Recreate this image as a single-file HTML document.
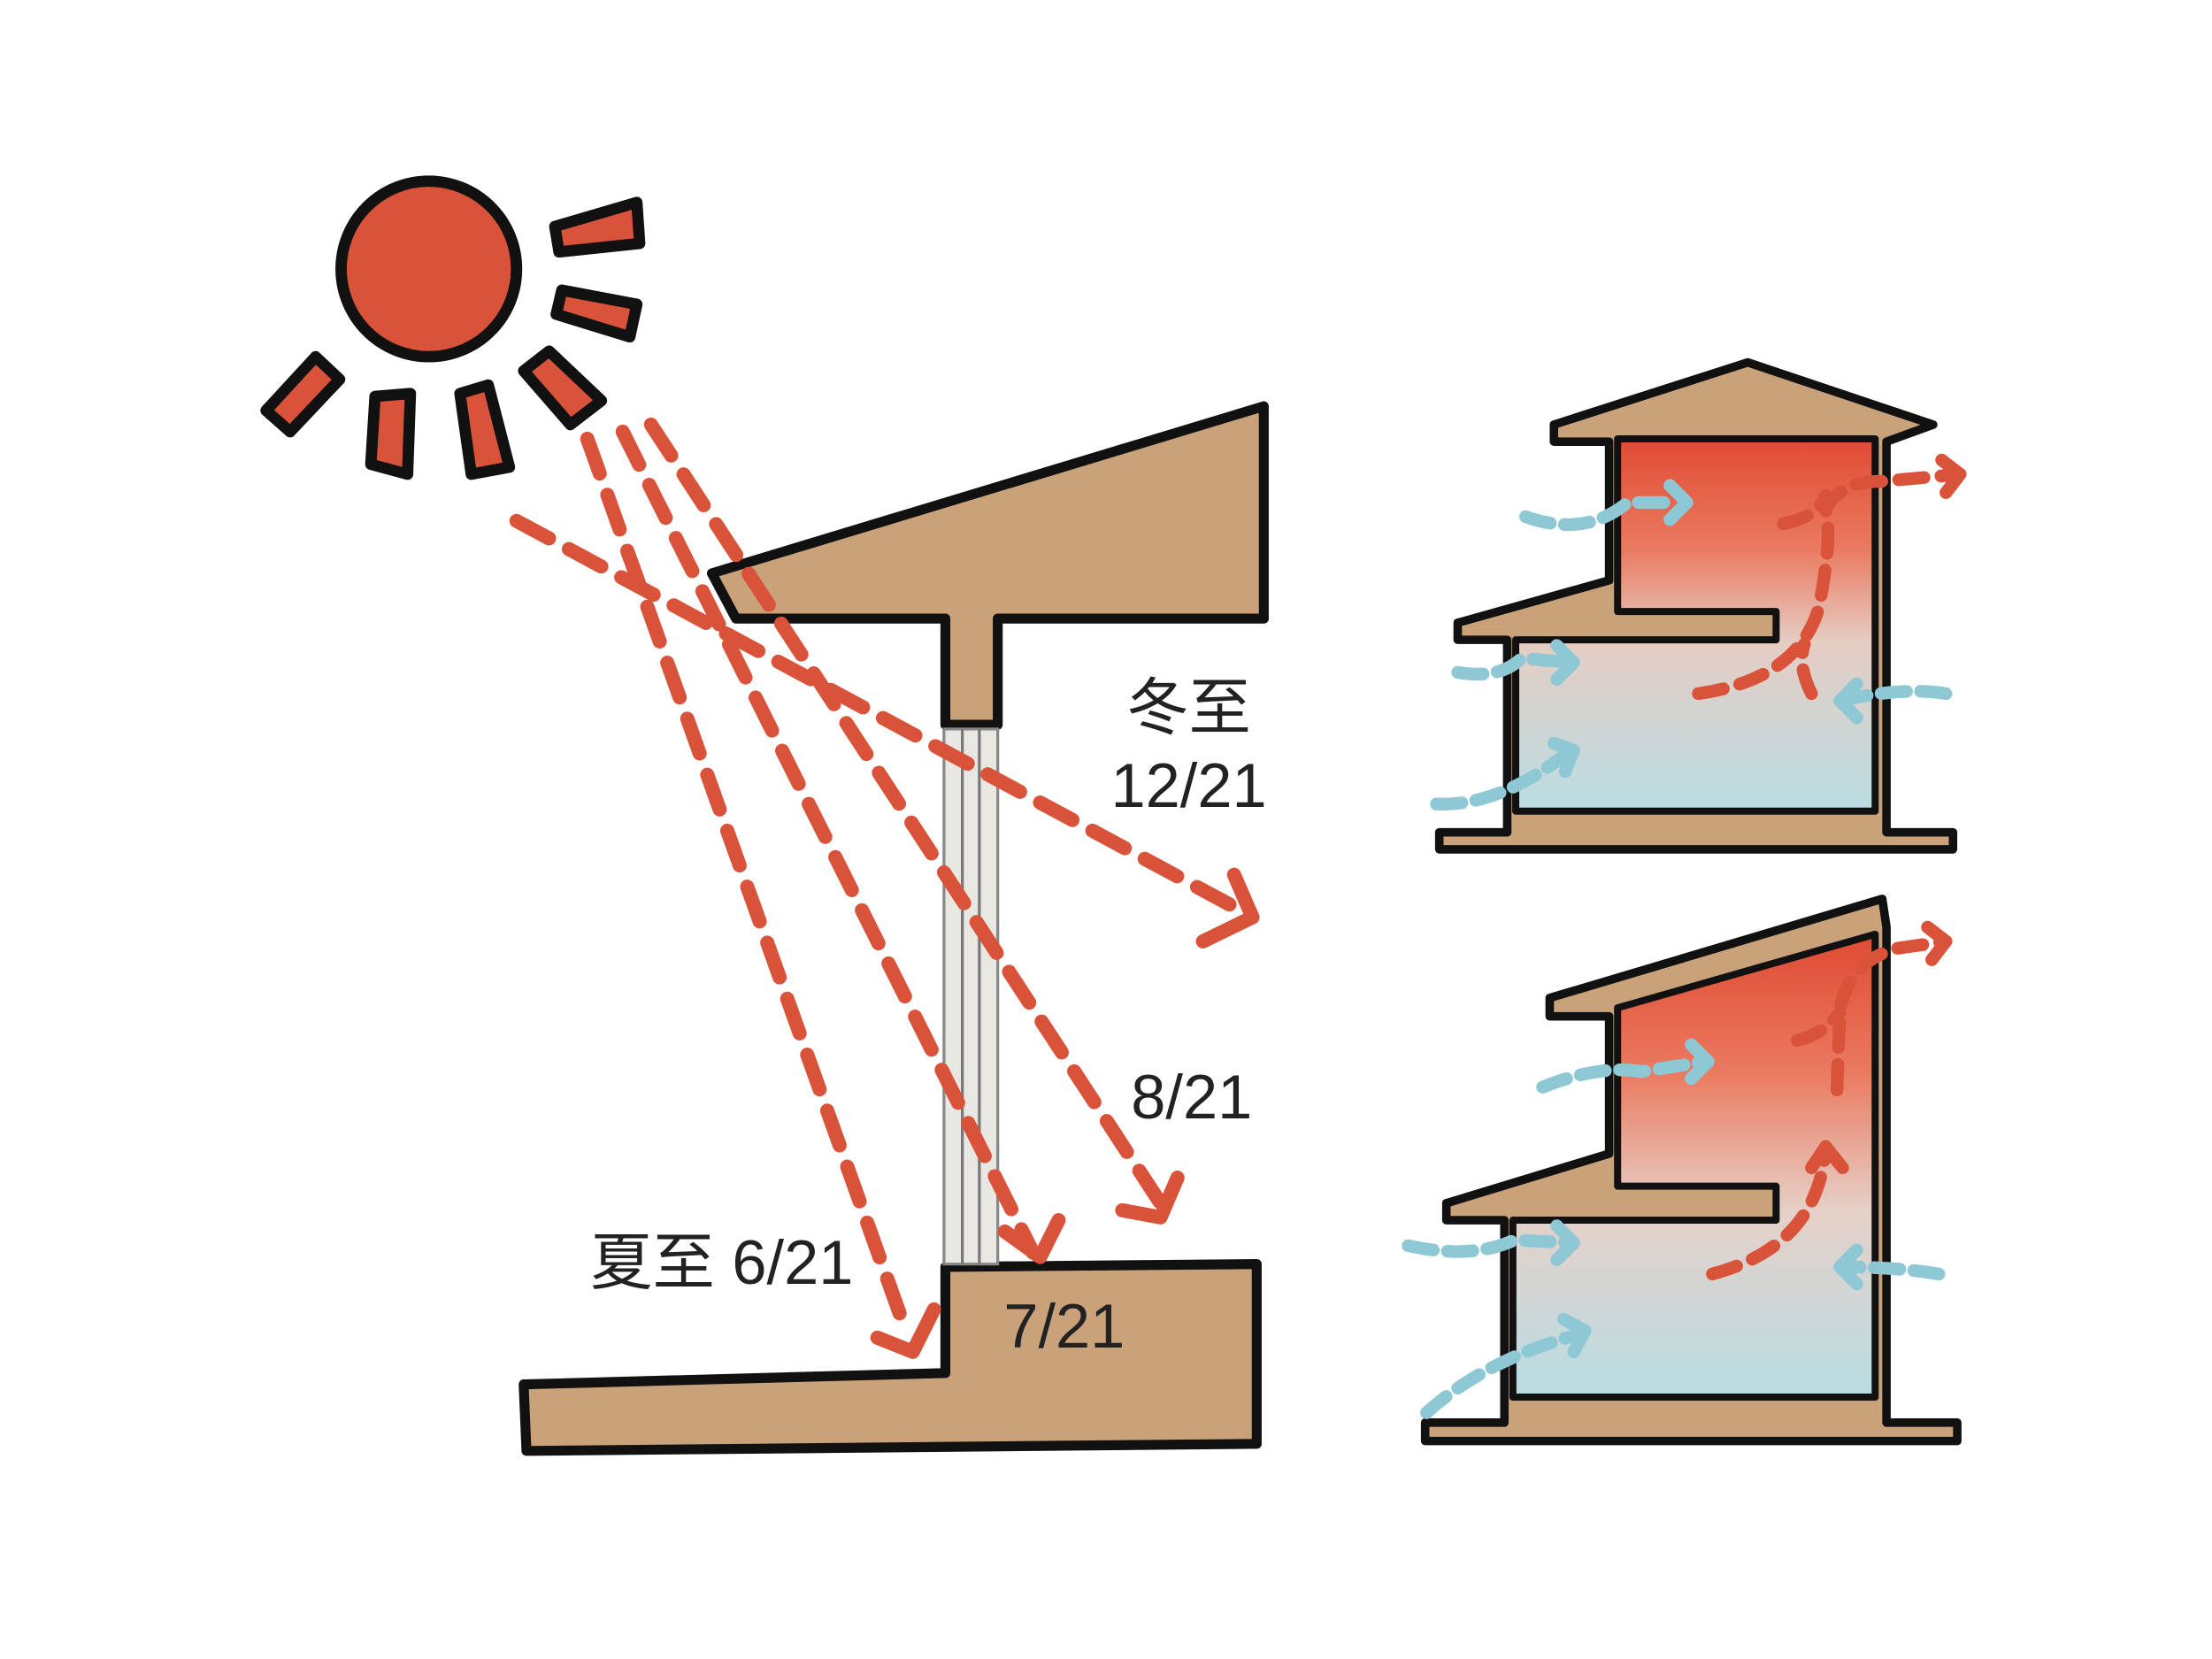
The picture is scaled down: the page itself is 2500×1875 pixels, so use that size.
<!DOCTYPE html>
<html><head><meta charset="utf-8"><style>
html,body{margin:0;padding:0;background:#fff;}
svg{display:block;}
text{font-family:"Liberation Sans","Noto Sans CJK SC",sans-serif;fill:#222;}
</style></head><body>
<svg width="2500" height="1875" viewBox="0 0 1563 1172" preserveAspectRatio="none" xmlns="http://www.w3.org/2000/svg">
<defs>
<linearGradient id="g1" gradientUnits="userSpaceOnUse" x1="0" y1="308" x2="0" y2="573">
<stop offset="0" stop-color="#e04a33"/><stop offset="0.3" stop-color="#ea7a60"/><stop offset="0.55" stop-color="#e6cdc4"/><stop offset="1" stop-color="#b9dde3"/></linearGradient>
<linearGradient id="g2" gradientUnits="userSpaceOnUse" x1="0" y1="660" x2="0" y2="985">
<stop offset="0" stop-color="#e04a33"/><stop offset="0.3" stop-color="#ea7a60"/><stop offset="0.6" stop-color="#e6d0c8"/><stop offset="1" stop-color="#b9dde3"/></linearGradient>
</defs>
<rect width="1563" height="1172" fill="#fff"/>
<g stroke="#111" stroke-width="8" stroke-linejoin="round" fill="#d9533a">
<circle cx="303" cy="190" r="62"/>
<polygon points="392,160 450,143 452,172 395,178"/>
<polygon points="397,205 450,215 445,238 393,222"/>
<polygon points="370,262 388,248 425,283 403,300"/>
<polygon points="325,278 345,272 360,330 333,335"/>
<polygon points="265,280 290,278 288,335 262,328"/>
<polygon points="188,290 223,252 240,268 205,305"/>
</g>
<g stroke="#111" stroke-width="7" stroke-linejoin="round" fill="#c9a27a">
<polygon points="503,405 893,287 893,437 705,437 705,512 668,512 668,437 520,437"/>
<polygon points="370,978 668,970 668,895 888,893 888,1020 372,1025"/>
</g>
<rect x="667" y="515" width="38" height="378" fill="#e9e7e2" stroke="#888" stroke-width="2"/>
<line x1="680" y1="515" x2="680" y2="893" stroke="#777" stroke-width="2"/>
<line x1="692" y1="515" x2="692" y2="893" stroke="#777" stroke-width="2"/>
<g stroke="#d9533a" stroke-width="10" fill="none" stroke-dasharray="26,16" stroke-linecap="round">
<line x1="365" y1="368" x2="880" y2="645"/>
<line x1="415" y1="310" x2="640" y2="940"/>
<line x1="440" y1="305" x2="730" y2="885"/>
<line x1="460" y1="300" x2="820" y2="850"/>
</g>
<g stroke="#d9533a" stroke-width="10" fill="none" stroke-linecap="round" stroke-linejoin="round">
<polyline points="872,618 885,648 850,665"/>
<polyline points="620,945 645,955 660,925"/>
<polyline points="710,870 735,888 748,862"/>
<polyline points="793,855 820,860 832,832"/>
</g>
<text x="840" y="515" font-size="44" text-anchor="middle">冬至</text>
<text x="840" y="570" font-size="44" text-anchor="middle">12/21</text>
<text x="842" y="790" font-size="44" text-anchor="middle">8/21</text>
<text x="510" y="907" font-size="44" text-anchor="middle">夏至 6/21</text>
<text x="752" y="952" font-size="44" text-anchor="middle">7/21</text>
<!-- house 1 -->
<g stroke="#111" stroke-width="6" stroke-linejoin="round" fill="#c9a27a">
<polygon points="1098,300 1235,256 1366,300 1333,312 1333,588 1380,588 1380,600 1017,600 1017,588 1065,588 1065,452 1030,452 1030,440 1137,410 1137,312 1098,312"/>
</g>
<polygon points="1143,310 1325,310 1325,573 1071,573 1071,452 1255,452 1255,432 1143,432" fill="url(#g1)" stroke="#111" stroke-width="5" stroke-linejoin="round"/>
<!-- house 2 -->
<g stroke="#111" stroke-width="6" stroke-linejoin="round" fill="#c9a27a">
<polygon points="1095,705 1330,635 1333,655 1333,1005 1383,1005 1383,1018 1007,1018 1007,1005 1063,1005 1063,862 1022,862 1022,850 1137,815 1137,718 1095,718"/>
</g>
<polygon points="1143,712 1325,660 1325,987 1069,987 1069,862 1255,862 1255,838 1143,838" fill="url(#g2)" stroke="#111" stroke-width="5" stroke-linejoin="round"/>
<g stroke="#8ec8d4" stroke-width="9" fill="none" stroke-dasharray="18,10" stroke-linecap="round">
<path d="M1078,365 Q1120,380 1150,355 L1185,355"/>
<path d="M1030,475 Q1060,480 1075,465 L1110,468"/>
<path d="M1015,568 Q1060,570 1110,530"/>
<path d="M1375,490 Q1345,485 1300,495"/>
<path d="M1090,768 Q1130,752 1160,757 L1205,750"/>
<path d="M995,880 Q1040,890 1070,876 L1110,878"/>
<path d="M1008,998 Q1050,960 1118,942"/>
<path d="M1370,900 Q1340,895 1300,895"/>
</g>
<g stroke="#8ec8d4" stroke-width="9" fill="none" stroke-linecap="round" stroke-linejoin="round">
<polyline points="1180,343 1192,355 1180,367"/>
<polyline points="1100,456 1112,468 1100,480"/>
<polyline points="1098,525 1112,530 1106,545"/>
<polyline points="1312,483 1300,495 1312,507"/>
<polyline points="1195,738 1207,750 1195,762"/>
<polyline points="1100,866 1112,878 1100,890"/>
<polyline points="1105,932 1120,940 1112,955"/>
<polyline points="1312,883 1300,895 1312,907"/>
</g>
<g stroke="#d9533a" stroke-width="9" fill="none" stroke-dasharray="18,12" stroke-linecap="round">
<path d="M1200,490 Q1270,480 1285,430 Q1295,380 1290,360 Q1300,340 1330,340 L1385,335"/>
<path d="M1260,370 Q1285,365 1290,350"/>
<path d="M1280,490 Q1270,470 1275,455"/>
<path d="M1210,900 Q1285,880 1290,810"/>
<path d="M1298,770 L1300,715 Q1305,680 1340,670 L1375,665"/>
<path d="M1270,735 Q1290,730 1300,715"/>
</g>
<g stroke="#d9533a" stroke-width="9" fill="none" stroke-linecap="round" stroke-linejoin="round">
<polyline points="1372,325 1385,335 1375,348"/>
<polyline points="1362,655 1375,665 1365,678"/>
<polyline points="1280,825 1290,810 1302,825"/>
</g>
</svg>
</body></html>
